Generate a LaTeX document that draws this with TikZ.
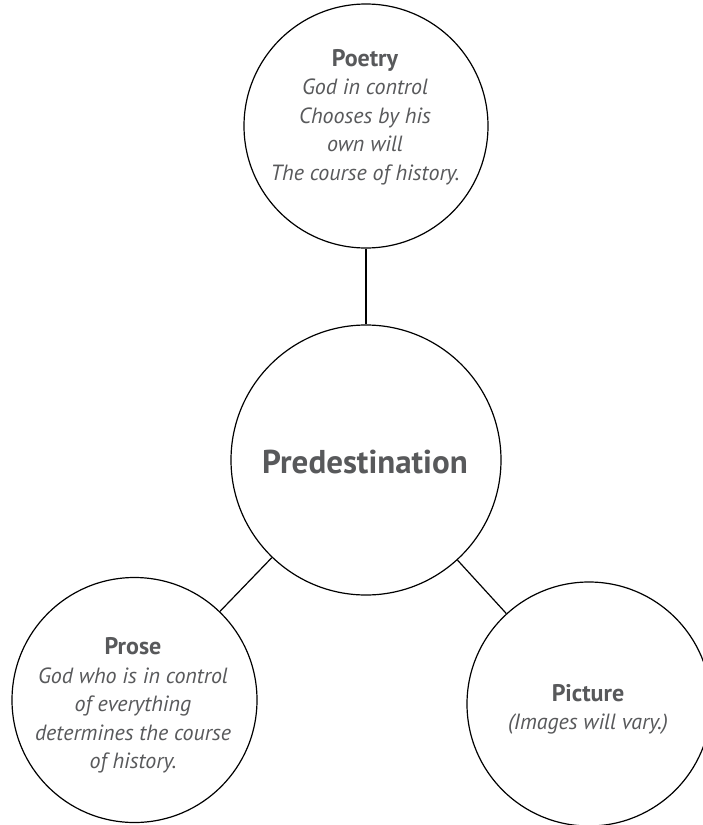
\documentclass[tikz,border=0pt]{standalone}
\usepackage{fontspec}
\setmainfont{PT Sans}
\definecolor{txt}{HTML}{58595B}
\begin{document}
\begin{tikzpicture}[x=1pt,y=-1pt,
  bubble/.style={circle,draw=black,line width=1.2pt,inner sep=0pt,fill=white},
  lbl/.style={text=txt,align=center,font=\fontsize{22}{28.6}\selectfont,inner sep=0pt},
  head/.style={font=\fontsize{24}{28.6}\selectfont\bfseries},
  big/.style={text=txt,font=\fontsize{33}{38}\selectfont\bfseries,inner sep=0pt},
  conn/.style={draw=black,line width=1.2pt}]
\useasboundingbox (0,0) rectangle (703,825);
\node[bubble,minimum size=244pt] (poetry) at (366,126) {};
\node[bubble,minimum size=270pt] (main) at (366,460) {};
\node[bubble,minimum size=245pt] (prose) at (134.5,700) {};
\node[bubble,minimum size=244pt] (picture) at (589,704) {};
\draw[conn] (poetry) -- (main);
\draw[conn] (prose) -- (main);
\draw[conn] (picture) -- (main);
\node[lbl] (poetrytext) at (365,117) {{\fontsize{24}{28.6}\selectfont\bfseries Poetry}\\\itshape God in control\\\itshape Chooses by his\\\itshape own will\\\itshape The course of history.};
\node[big] (maintext) at (365,461.5) {Predestination};
\node[lbl] (prosetext) at (133,705.5) {{\fontsize{24}{28.6}\selectfont\bfseries Prose}\\\itshape God who is in control\\\itshape of everything\\\itshape determines the course\\\itshape of history.};
\node[lbl] (picturetext) at (588,709.5) {{\fontsize{24}{28.6}\selectfont\bfseries Picture}\\\itshape (Images will vary.)};
\end{tikzpicture}
\end{document}
